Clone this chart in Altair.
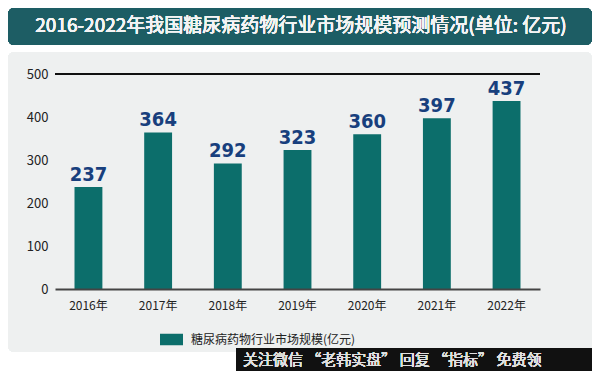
import altair as alt
import pandas as pd

years = ["2016年", "2017年", "2018年", "2019年", "2020年", "2021年", "2022年"]
values = [237, 364, 292, 323, 360, 397, 437]
series_name = "糖尿病药物行业市场规模(亿元)"
title_text = "2016-2022年我国糖尿病药物行业市场规模预测情况(单位: 亿元)"
watermark = "关注微信 “老韩实盘” 回复 “指标” 免费领"
y_ticks = [0, 100, 200, 300, 400, 500]

df = pd.DataFrame({"year": years, "value": values, "series": [series_name] * len(years)})

CJK = "Noto Sans CJK SC"
TEAL = "#0c6e6b"
HEADER = "#1d5d64"
PANEL = "#eef0f0"
NAVY = "#183f7d"

# plot area origin is at canvas (47, 66); width 485, height 215
W, H = 485, 215
base = alt.Chart(df)

panel = base.mark_rect(color=PANEL, cornerRadius=6).encode(
    x=alt.value(-47), x2=alt.value(537), y=alt.value(-22), y2=alt.value(278)
)
header = base.mark_rect(color=HEADER, cornerRadius=6).encode(
    x=alt.value(-47), x2=alt.value(537), y=alt.value(-66), y2=alt.value(-29)
)
title = base.mark_text(
    font=CJK, fontSize=19, color="#f4f4f4", align="center", baseline="middle"
).encode(
    x=alt.value(246), y=alt.value(-48), text=alt.value(title_text)
)
wm_box = base.mark_rect(color="#111111").encode(
    x=alt.value(181), x2=alt.value(537), y=alt.value(274), y2=alt.value(297)
)
wm_text = base.mark_text(
    font=CJK, fontSize=15, color="#e0e0e0", align="left", baseline="middle"
).encode(
    x=alt.value(188), y=alt.value(285.5), text=alt.value(watermark)
)

x_enc = alt.X(
    "year:N", sort=None,
    scale=alt.Scale(paddingInner=0.6, paddingOuter=0.28),
    axis=alt.Axis(
        title=None, labelAngle=0, ticks=False, domain=True, domainColor="#444444",
        domainWidth=2, labelFont=CJK, labelFontSize=12, labelColor="#222222",
        labelPadding=11, zindex=1,
    ),
)
y_enc = alt.Y(
    "value:Q",
    scale=alt.Scale(domain=[0, 500], nice=False),
    axis=alt.Axis(
        title=None, values=y_ticks, grid=False, domain=False, ticks=False,
        labelFont=CJK, labelFontSize=13, labelColor="#222222", labelPadding=7, zindex=1,
    ),
)

top_rule = base.mark_rule(color="#111111", strokeWidth=1.5).encode(
    y=alt.datum(500), x=alt.value(0), x2=alt.value(W)
)

bars = base.mark_bar(color=TEAL).encode(
    x=x_enc, y=y_enc,
    color=alt.Color(
        "series:N",
        scale=alt.Scale(range=[TEAL]),
        legend=alt.Legend(
            title=None, orient="none", legendX=105, legendY=254,
            symbolType="M-1,-0.5H1V0.5H-1Z", symbolSize=529, symbolStrokeWidth=0,
            labelFont=CJK, labelFontSize=12, labelColor="#222222", labelOffset=8,
            labelLimit=400, zindex=1,
        ),
    ),
)
labels = base.mark_text(
    font="DejaVu Sans Condensed", fontWeight="bold", fontSize=20, color=NAVY,
    baseline="bottom", dy=-2,
).encode(x="year:N", y="value:Q", text="value:Q")

chart = alt.layer(panel, header, title, wm_box, wm_text, top_rule, bars, labels).properties(
    width=W, height=H,
    autosize=alt.AutoSizeParams(type="none"),
    padding={"left": 47, "top": 66, "right": 52, "bottom": 82},
    background="white",
).configure_view(stroke=None)

chart.save("out.html", embed_options={"renderer": "svg", "actions": False})
